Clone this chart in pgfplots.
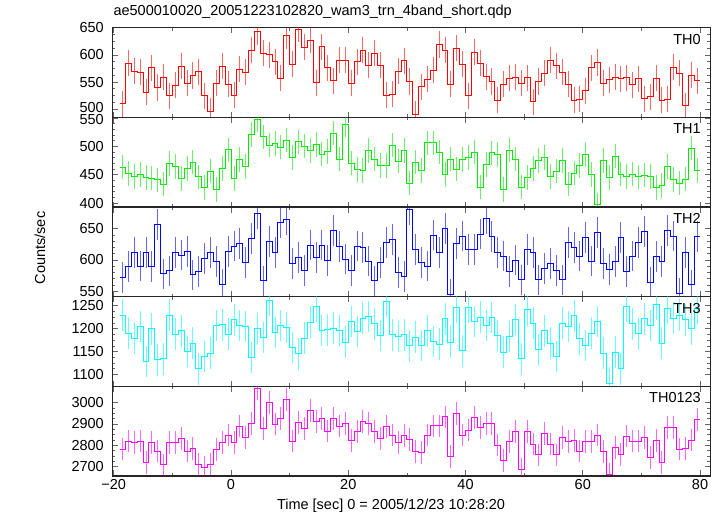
\documentclass[border=0pt]{standalone}
\usepackage{fontspec}
\setmainfont{Liberation Sans}
\usepackage{pgfplots}
\usepackage{pgfplotstable}
\pgfplotsset{compat=1.18}

\definecolor{cR}{RGB}{255,0,0}
\definecolor{cG}{RGB}{0,235,0}
\definecolor{cB}{RGB}{0,0,255}
\definecolor{cC}{RGB}{0,255,255}
\definecolor{cM}{RGB}{255,0,255}

% t = left edge of 1-s bin; a=TH0, b=TH1, c=TH2, d=TH3, e=TH0123
\pgfplotstableread{
t a b c d e
-19 510 463 572.5 1230 2782
-18 584.5 452.4 589.4 1190 2820
-17 570 447 612.2 1179 2813
-16 568.5 450 590.5 1204.7 2820
-15 531 445.3 612.2 1128.4 2720
-14 576.5 444 589.4 1199.6 2813
-13 540 441 656.6 1132 2773
-12 559 433.6 577.8 1134.2 2708
-11 524.5 469.4 582.6 1230 2813
-10 544 464.7 612.2 1188 2813
-9 579 443 608 1195.2 2832
-8 548 460.6 613.2 1150.2 2773
-7 562 472.4 576.2 1168.4 2785
-6 569 446 581.5 1112.5 2711
-5 524.5 427.7 602.7 1139.3 2697
-4 495.7 456 612.2 1146.6 2712
-3 548 423.6 597.4 1206.8 2781
-2 579 460.6 561.4 1208.3 2813
-1 546 493.6 613.2 1188 2848
0 525.7 443 622.2 1219.2 2813
1 574 476.5 626.5 1206.8 2890
2 568 464.7 596.3 1204.7 2837
3 609 520.6 634.4 1137.1 2902
4 642.6 547 674 1199.6 3065
5 603 516.5 566.7 1180.7 2879
6 600 501.8 629 1262.7 3000
7 587.5 504.7 612.2 1191.6 2899
8 557 498.8 659.8 1206.8 2925
9 635 510.6 665 1202.5 3014
10 583 480.6 594.7 1159 2820
11 647 507.7 604.2 1145 2907
12 614 500 583.1 1179.3 2879
13 627 492.4 623.8 1214 2964
14 549 503 604.2 1248.2 2910
15 615 486.5 623.8 1196 2925
16 576.5 491 599 1197.3 2866
17 552 523 647.6 1201 2925
18 590.6 477.7 621.2 1196 2890
19 590.6 538 601.6 1170.5 2902
20 548 470.6 583.1 1215.6 2821
21 587.5 458.9 622.2 1193.8 2863
22 609 457 620 1222.8 2910
23 581.4 492.4 598.4 1226.4 2902
24 603 477.7 566.7 1210.5 2863
25 581.4 466.5 596.3 1185 2832
26 526 466.5 628 1260.6 2887
27 527.5 501.8 632.8 1186.5 2848
28 570 473.6 580 1182.9 2812
29 589 492.4 573.6 1186.5 2845
30 551 435.3 681 1162.6 2828
31 491 472.4 616.4 1181.4 2770
32 541.6 457.7 596.3 1163.3 2765
33 555 505.9 590.5 1195.2 2848
34 572 505.9 639.7 1172 2891
35 619 490 612.2 1166.2 2891
36 609 450 650.3 1221.4 2933
37 546 477.7 545.5 1170.5 2747
38 612 460 626.5 1246 2949
39 582.6 476.5 638.1 1151.7 2848
40 524.5 480.6 617 1246 2871
41 604.7 490 617 1215.6 2930
42 584.5 428.3 641.3 1225 2884
43 560 467.7 666.1 1206.8 2902
44 551 488.3 637 1224.3 2902
45 517 485.3 611.6 1185 2801
46 546 423.6 606.4 1148.8 2728
47 557 493 581.5 1182.9 2817
48 559 477.7 600 1220 2863
49 548 428.3 568.3 1134.2 2685
50 558 445.3 617 1241 2863
51 514 460.6 612.2 1212 2806
52 551 475.3 568.3 1153.8 2755
53 566 480.6 586.8 1195.2 2856
54 590.6 447 594.7 1168.4 2806
55 580 456 583.1 1139.3 2755
56 568 475.3 568.3 1212 2835
57 546 433.6 627.5 1204.7 2817
58 517 453 620 1228 2821
59 518 466.5 606.4 1177.8 2773
60 533.6 485.3 635.4 1163.3 2817
61 576.5 450 598.4 1190.4 2817
62 586 397 643.9 1215.6 2848
63 548 475.3 594.7 1146.6 2770
64 554 445.3 585.2 1081.2 2664
65 559 482.4 597.4 1148.8 2789
66 556 451.2 635.4 1112.5 2758
67 558 447 581.5 1249.7 2843
68 544.7 451 606.4 1210.5 2820
69 556 446 627.5 1188.7 2820
70 519 449 645 1221.4 2837
71 523 447 564 1206.8 2744
72 557 427.7 605.3 1253.3 2821
73 517 431.2 597.4 1168.4 2720
74 518 464.7 647.6 1244.6 2882
75 577 441.2 638.1 1222.8 2884
76 566 435.3 546 1230 2782
77 506.7 442.4 612.2 1219.2 2785
78 563 497 560.3 1199.6 2824
79 552.6 457.7 637 1244.6 2921
80 552.6 457.7 637 1244.6 2921
}\lc

\newcommand\tf{\fontsize{14.5}{17}\selectfont}

\tikzset{lab/.style={anchor=north east, font=\tf, xshift=-6pt, yshift=-3pt}}

\pgfplotsset{
  panel/.style={
    scale only axis, width=598pt, height=89.66pt, anchor=north west,
    xmin=-20.25, xmax=81.75,
    xtick={-20,0,20,40,60,80}, minor x tick num=1, xticklabels={},
    tick align=inside, tick pos=both,
    major tick length=5.5pt, minor tick length=3pt,
    every tick/.style={black!60, line width=0.7pt},
    axis line style={black!85, line width=1.1pt},
    tick label style={font=\tf},
    yticklabel style={xshift=-5pt, inner ysep=0pt},
    /pgf/number format/assume math mode=true,
    /pgf/number format/1000 sep={},
    clip=true,
  },
  stepline/.style={const plot mark left, line width=0.9pt, draw=#1, mark=none},
  errs/.style 2 args={draw=none, mark=none, skip coords between index={99}{100},
    error bars/.cd, y dir=both, y fixed=#2, error mark=none,
    error bar style={line width=0.9pt, draw=#1, draw opacity=0.6}},
}

\begin{document}
\begin{tikzpicture}
\useasboundingbox (0,0) rectangle (722pt,516pt);

\begin{axis}[panel, at={(112.3pt,488.3pt)}, ymin=485, ymax=650,
  ytick={500,550,600,650}, minor y tick num=3,
  yticklabels={\raisebox{1.8pt}[\height][0pt]{500},550,600,650}]
  \addplot[stepline=cR] table[x=t,y=a]{\lc};
  \addplot[errs={cR}{24}] table[x expr=\thisrow{t}+0.5,y=a]{\lc};
  \node[lab] at (rel axis cs:1,1) {TH0};
\end{axis}

\begin{axis}[panel, at={(112.3pt,398.64pt)}, ymin=393, ymax=551,
  ytick={400,450,500,550}, minor y tick num=4,
  yticklabels={400,450,500,\raisebox{-1.8pt}[\height][0pt]{550}}]
  \addplot[stepline=cG] table[x=t,y=b]{\lc};
  \addplot[errs={cG}{21.5}] table[x expr=\thisrow{t}+0.5,y=b]{\lc};
  \node[lab] at (rel axis cs:1,1) {TH1};
\end{axis}

\begin{axis}[panel, at={(112.3pt,308.98pt)}, ymin=541.5, ymax=684.5,
  ytick={550,600,650}, minor y tick num=4]
  \addplot[stepline=cB] table[x=t,y=c]{\lc};
  \addplot[errs={cB}{24.5}] table[x expr=\thisrow{t}+0.5,y=c]{\lc};
  \node[lab] at (rel axis cs:1,1) {TH2};
\end{axis}

\begin{axis}[panel, at={(112.3pt,219.32pt)}, ymin=1074, ymax=1270,
  ytick={1100,1150,1200,1250}, minor y tick num=3]
  \addplot[stepline=cC] table[x=t,y=d]{\lc};
  \addplot[errs={cC}{34.6}] table[x expr=\thisrow{t}+0.5,y=d]{\lc};
  \node[lab] at (rel axis cs:1,1) {TH3};
\end{axis}

\begin{axis}[panel, at={(112.3pt,129.66pt)}, ymin=2656, ymax=3076,
  ytick={2700,2800,2900,3000}, minor y tick num=3,
  xticklabels={−20,0,20,40,60,80}]
  \addplot[stepline=cM] table[x=t,y=e]{\lc};
  \addplot[errs={cM}{53}] table[x expr=\thisrow{t}+0.5,y=e]{\lc};
  \node[lab] at (rel axis cs:1,1) {TH0123};
\end{axis}

\node[anchor=west, font=\tf] at (110pt,504pt) {ae500010020\_20051223102820\_wam3\_trn\_4band\_short.qdp};
\node[rotate=90, font=\tf] at (40pt,268pt) {Counts/sec};
\node[font=\tf] at (391pt,10pt) {Time [sec] 0 = 2005/12/23 10:28:20};
\end{tikzpicture}
\end{document}
